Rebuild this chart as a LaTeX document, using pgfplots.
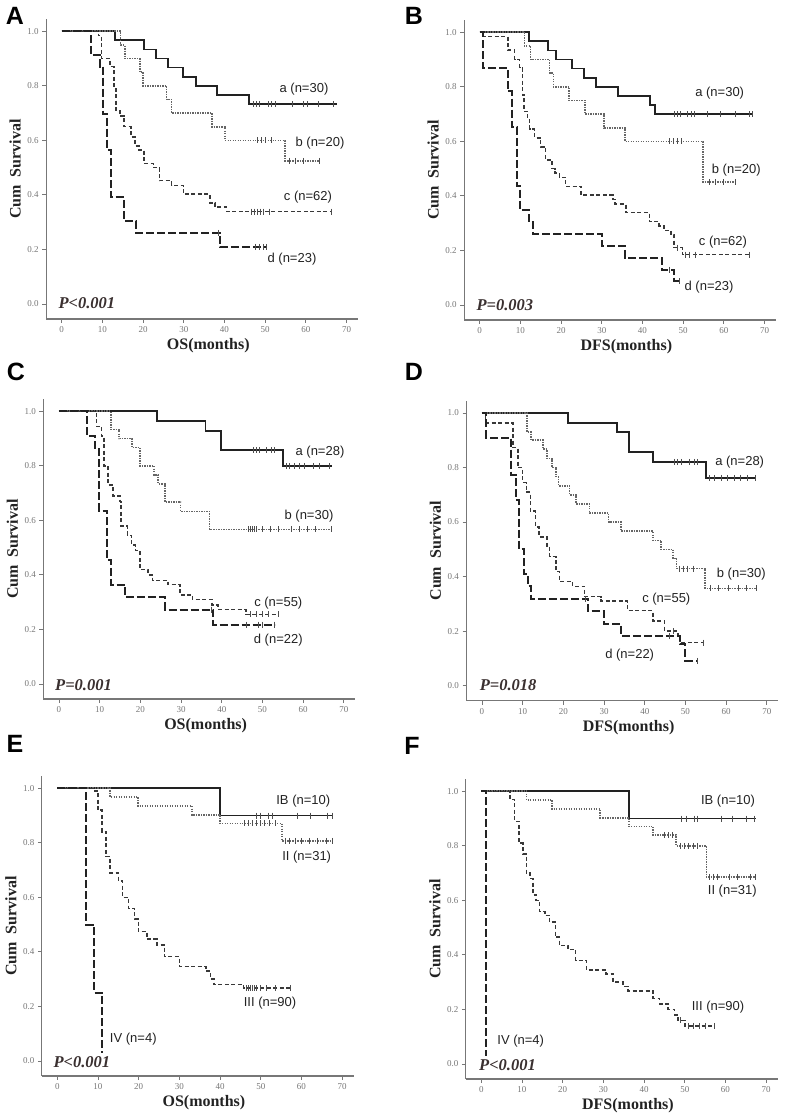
\documentclass[border=0pt]{standalone}
\usepackage{fontspec}
\setmainfont{Liberation Serif}
\newfontfamily\arial{Liberation Sans}
\usepackage{pgfplots}
\pgfplotsset{compat=1.18}

\definecolor{axgray}{HTML}{777777}
\definecolor{ink}{HTML}{222222}
\definecolor{pcol}{HTML}{3A3030}

\pgfplotsset{
  kmaxis/.style={
    scale only axis, width=311.8pt, height=300pt,
    xmin=-3.8, xmax=72.8, ymin=-0.055, ymax=1.045,
    axis lines=left, axis line style={-, draw=axgray, line width=1.1pt},
    tick align=outside, major tick length=4pt,
    tick style={draw=axgray, line width=0.9pt},
    xtick={0,10,...,70}, ytick={0,0.2,0.4,0.6,0.8,1.0},
    yticklabel style={/pgf/number format/fixed, /pgf/number format/fixed zerofill,
                      /pgf/number format/precision=1},
    /pgf/number format/assume math mode=true,
    tick label style={font=\fontsize{9}{9}\selectfont, text=axgray},
    label style={font=\fontsize{16}{16}\selectfont\bfseries, text=ink},
    ylabel={Cum\hspace{0.5em}Survival},
    xlabel style={at={(axis description cs:0.52,-0.09)}, anchor=center},
    ylabel style={at={(axis description cs:-0.0994,0.5)}, anchor=center},
    clip=false,
  },
  sa/.style={const plot, no marks, draw=ink, line width=1.8pt},
  sb/.style={const plot, no marks, draw=black!60, line width=1.6pt, dash pattern=on 1.4pt off 1.1pt},
  sc/.style={const plot, no marks, draw=ink!90, line width=1.5pt, dash pattern=on 4pt off 2.5pt},
  sd/.style={const plot, no marks, draw=ink, line width=2pt, dash pattern=on 8pt off 3pt},
  cens/.style={only marks, mark=|, mark size=3pt, mark options={line width=0.8pt, draw=ink!80}},
}

\newcommand{\lab}[3]{\node[font=\arial\fontsize{13}{13}\selectfont, text=ink] at (#1pt,#2pt) {#3};}
\newcommand{\pval}[3]{\node[anchor=west, font=\fontsize{16.5}{16.5}\selectfont\bfseries\itshape, text=pcol] at (#1pt,#2pt) {#3};}
\newcommand{\panel}[3]{\node[font=\arial\fontsize{25}{25}\selectfont\bfseries] at (#1pt,#2pt) {#3};}

\begin{document}
\begin{tikzpicture}
\useasboundingbox (0,0) rectangle (786pt,1120pt);

% ---------- A ----------
\begin{axis}[kmaxis, at={(46.2pt,801pt)}, anchor=south west, xlabel={OS(months)}]
\addplot[sa] coordinates {(0,1)(13.1,0.967)(20.3,0.933)(23.1,0.9)(26.2,0.867)(29.9,0.833)(33,0.8)(38.2,0.767)(46,0.733)(67.6,0.733)};
\addplot[cens] coordinates {(47.1,0.733)(47.9,0.733)(48.7,0.733)(50.8,0.733)(51.6,0.733)(52.4,0.733)(56.6,0.733)(59.4,0.733)(60.3,0.733)(63,0.733)(66.7,0.733)};
\addplot[sb] coordinates {(0,1)(14.5,0.95)(15.5,0.9)(19.2,0.85)(20,0.8)(25.8,0.75)(27,0.7)(37,0.65)(40.1,0.6)(54.9,0.525)(63.3,0.525)};
\addplot[cens] coordinates {(48,0.6)(49,0.6)(50,0.6)(51.5,0.6)(56,0.525)(57.5,0.525)(59.5,0.525)(63.3,0.525)};
\addplot[sc] coordinates {(0,1)(9,0.984)(9.8,0.9)(11.9,0.87)(12.8,0.79)(13.3,0.71)(14.3,0.69)(15.3,0.65)(17,0.613)(18,0.58)(19,0.565)(20.2,0.516)(22.5,0.5)(24,0.452)(27,0.435)(29.9,0.403)(36.4,0.371)(37.7,0.355)(40.5,0.339)(66.3,0.339)};
\addplot[cens] coordinates {(46.5,0.339)(47.3,0.339)(48,0.339)(48.8,0.339)(49.6,0.339)(51,0.339)(66.3,0.339)};
\addplot[sd] coordinates {(0,1)(7.1,0.913)(9.4,0.87)(10.2,0.696)(11.2,0.565)(12,0.391)(15.3,0.304)(18.3,0.261)(38.9,0.209)(50.4,0.209)};
\addplot[cens] coordinates {(38.6,0.261)(47.5,0.209)(48.5,0.209)(49.5,0.209)(50.4,0.209)};
\end{axis}

% ---------- B ----------
\begin{axis}[kmaxis, at={(464.2pt,800pt)}, anchor=south west, xlabel={DFS(months)}]
\addplot[sa] coordinates {(0,1)(12.1,0.967)(16.7,0.933)(18.8,0.9)(22.7,0.867)(25.7,0.833)(28.6,0.8)(33.9,0.767)(41.9,0.733)(43,0.7)(67,0.7)};
\addplot[cens] coordinates {(47.8,0.7)(48.6,0.7)(49.4,0.7)(51.1,0.7)(51.9,0.7)(52.7,0.7)(56,0.7)(59.2,0.7)(62.9,0.7)(66.2,0.7)(67,0.7)};
\addplot[sb] coordinates {(0,1)(11,0.95)(12.5,0.9)(17.2,0.85)(18.1,0.8)(22,0.75)(25.9,0.7)(30.6,0.65)(35.7,0.6)(54.9,0.45)(62.9,0.45)};
\addplot[cens] coordinates {(46.5,0.6)(47.5,0.6)(48.5,0.6)(49.5,0.6)(56.5,0.45)(58,0.45)(60,0.45)(62.9,0.45)};
\addplot[sc] coordinates {(0,1)(0.7,0.984)(6.9,0.935)(8.6,0.9)(9.8,0.87)(10.5,0.77)(10.9,0.71)(11.8,0.68)(12.3,0.645)(13.5,0.613)(15,0.58)(16.2,0.532)(17.8,0.5)(18.5,0.484)(19.6,0.468)(21.1,0.435)(24.9,0.403)(32.7,0.387)(33.3,0.37)(35.9,0.339)(41.7,0.306)(44.1,0.29)(45.3,0.274)(47,0.258)(47.8,0.21)(49.8,0.185)(66.2,0.185)};
\addplot[cens] coordinates {(48.5,0.21)(50.5,0.185)(51.5,0.185)(53,0.185)(66.2,0.185)};
\addplot[sd] coordinates {(0,1)(0.7,0.87)(6.9,0.783)(8,0.652)(9.2,0.435)(10,0.348)(12.1,0.304)(13.1,0.261)(30,0.217)(35.7,0.174)(44.8,0.13)(47.8,0.087)(49,0.087)};
\addplot[cens] coordinates {(46.5,0.13)(49,0.087)};
\end{axis}

% ---------- C ----------
\begin{axis}[kmaxis, at={(43.5pt,421pt)}, anchor=south west, xlabel={OS(months)}]
\addplot[sa] coordinates {(0,1)(24.1,0.964)(36,0.929)(39.9,0.857)(55,0.8)(67,0.8)};
\addplot[cens] coordinates {(47.7,0.857)(48.5,0.857)(49.3,0.857)(50.9,0.857)(52.2,0.857)(53,0.857)(55.8,0.8)(56.6,0.8)(57.9,0.8)(59.1,0.8)(60.3,0.8)(62.4,0.8)(64,0.8)(66.5,0.8)};
\addplot[sb] coordinates {(0,1)(12.8,0.933)(14.8,0.9)(17.9,0.867)(19.9,0.8)(23.4,0.767)(24.4,0.733)(26,0.667)(29.9,0.633)(37,0.567)(67,0.567)};
\addplot[cens] coordinates {(46.5,0.567)(47,0.567)(47.5,0.567)(48,0.567)(48.5,0.567)(50,0.567)(52,0.567)(54,0.567)(57,0.567)(59,0.567)(61,0.567)(63,0.567)(67,0.567)};
\addplot[sc] coordinates {(0,1)(9.2,0.945)(10.5,0.91)(11.1,0.8)(12.1,0.73)(13.3,0.69)(15,0.67)(15.2,0.58)(16.8,0.545)(17.8,0.51)(18.8,0.49)(19.9,0.42)(21.9,0.4)(23,0.38)(26.8,0.364)(29.7,0.327)(32.8,0.31)(37.6,0.29)(39.1,0.273)(45.9,0.255)(54,0.255)};
\addplot[cens] coordinates {(47,0.255)(48.5,0.255)(50,0.255)(51.5,0.255)(54,0.255)};
\addplot[sd] coordinates {(0,1)(7,0.909)(8.8,0.864)(9.8,0.636)(11.9,0.455)(12.9,0.364)(16.2,0.318)(26,0.273)(37.9,0.218)(53,0.218)};
\addplot[cens] coordinates {(37.5,0.273)(46,0.218)(49,0.218)(50,0.218)(53,0.218)};
\end{axis}

% ---------- D ----------
\begin{axis}[kmaxis, at={(466.5pt,419.3pt)}, anchor=south west, xlabel={DFS(months)}]
\addplot[sa] coordinates {(0,1)(21.1,0.964)(33.1,0.929)(36.1,0.857)(42.1,0.821)(55,0.762)(67.3,0.762)};
\addplot[cens] coordinates {(47.3,0.821)(48.1,0.821)(48.9,0.821)(50.9,0.821)(52.1,0.821)(52.9,0.821)(55.8,0.762)(57.1,0.762)(58.7,0.762)(60.3,0.762)(62,0.762)(63.6,0.762)(65.2,0.762)(67.1,0.762)};
\addplot[sb] coordinates {(0,1)(11.1,0.93)(12.1,0.9)(15,0.867)(16,0.833)(17.2,0.8)(18.2,0.767)(18.8,0.733)(21.5,0.7)(23.1,0.667)(26.4,0.633)(31.1,0.6)(34.2,0.567)(42,0.533)(44,0.5)(46.9,0.467)(47.8,0.429)(54.8,0.357)(67.3,0.357)};
\addplot[cens] coordinates {(48.5,0.429)(49.5,0.429)(50.5,0.429)(52,0.429)(56,0.357)(58,0.357)(60.5,0.357)(63,0.357)(65,0.357)(67.3,0.357)};
\addplot[sc] coordinates {(0,1)(0.9,0.964)(7.6,0.873)(8.8,0.8)(10,0.745)(10.9,0.71)(11.9,0.64)(13.2,0.582)(14,0.545)(16,0.51)(16.6,0.473)(18.2,0.418)(19.1,0.382)(22.3,0.364)(25.2,0.327)(29.3,0.31)(35.8,0.275)(42,0.237)(44.9,0.2)(48.2,0.18)(48.6,0.158)(54.3,0.158)};
\addplot[cens] coordinates {(47,0.2)(54.3,0.158)};
\addplot[sd] coordinates {(0,1)(1.1,0.909)(7.2,0.773)(8.3,0.682)(9.2,0.5)(10.3,0.409)(11.3,0.364)(12.1,0.318)(26,0.273)(29.9,0.227)(34.2,0.182)(48.6,0.152)(50,0.091)(53,0.091)};
\addplot[cens] coordinates {(25.5,0.318)(46,0.182)(53,0.091)};
\end{axis}

% ---------- E ----------
\begin{axis}[kmaxis, at={(41.8pt,44pt)}, anchor=south west, xlabel={OS(months)}]
\addplot[sa] coordinates {(0,1)(40,0.9)(67.5,0.9)};
\addplot[cens] coordinates {(49,0.9)(49.9,0.9)(51.9,0.9)(52.8,0.9)(58.9,0.9)(62.2,0.9)(66.3,0.9)(67.5,0.9)};
\addplot[sb] coordinates {(0,1)(13,0.968)(19.9,0.935)(33.1,0.903)(40,0.871)(55.2,0.807)(67.5,0.807)};
\addplot[cens] coordinates {(46,0.871)(47,0.871)(48,0.871)(49,0.871)(50,0.871)(51,0.871)(52,0.871)(53.5,0.871)(56,0.807)(57,0.807)(58.5,0.807)(60,0.807)(62,0.807)(64,0.807)(66,0.807)(67.5,0.807)};
\addplot[sc] coordinates {(0,1)(9.2,0.99)(10,0.92)(11,0.84)(12,0.75)(13,0.69)(15,0.66)(16,0.6)(17.5,0.56)(19,0.52)(19.9,0.475)(22,0.447)(24.5,0.426)(26.3,0.383)(30,0.347)(36.5,0.33)(37.6,0.3)(38.5,0.28)(45.8,0.267)(57.3,0.267)};
\addplot[cens] coordinates {(46.5,0.267)(47,0.267)(47.5,0.267)(48,0.267)(48.5,0.267)(49,0.267)(50,0.267)(51.5,0.267)(53.5,0.267)(57.3,0.267)};
\addplot[sd] coordinates {(0,1)(7.1,0.5)(9.1,0.25)(11.1,0.03)};
\end{axis}

% ---------- F ----------
\begin{axis}[kmaxis, at={(465.8pt,41pt)}, anchor=south west, xlabel={DFS(months)}]
\addplot[sa] coordinates {(0,1)(36.2,0.9)(67.4,0.9)};
\addplot[cens] coordinates {(49.1,0.9)(50.4,0.9)(52.4,0.9)(53.2,0.9)(58.9,0.9)(61.8,0.9)(65.1,0.9)(67.1,0.9)};
\addplot[sb] coordinates {(0,1)(11.1,0.968)(17.4,0.935)(29.2,0.903)(36.3,0.871)(42.2,0.839)(47.9,0.8)(55.3,0.686)(67.4,0.686)};
\addplot[cens] coordinates {(45,0.839)(46,0.839)(47,0.839)(49,0.8)(50,0.8)(51,0.8)(52,0.8)(53,0.8)(56,0.686)(57,0.686)(58,0.686)(61,0.686)(63,0.686)(66,0.686)(67.4,0.686)};
\addplot[sc] coordinates {(0,1)(7,0.97)(8.2,0.89)(9.3,0.81)(10.2,0.77)(11.1,0.7)(12,0.68)(12.7,0.62)(13.5,0.6)(14.3,0.56)(15.6,0.545)(16.8,0.52)(18.2,0.465)(19.2,0.435)(21.3,0.42)(23.2,0.38)(25.8,0.345)(30.7,0.33)(32.4,0.3)(34.8,0.285)(36,0.268)(42.2,0.24)(43.8,0.22)(45.9,0.2)(47.5,0.18)(48.3,0.16)(50,0.14)(57.3,0.14)};
\addplot[cens] coordinates {(49,0.16)(51,0.14)(52,0.14)(53.5,0.14)(55,0.14)(57.3,0.14)};
\addplot[sd] coordinates {(0,1)(1.2,0.03)};
\end{axis}

% curve labels
\lab{304}{1031}{a (n=30)} \lab{320}{977}{b (n=20)} \lab{308}{923}{c (n=62)} \lab{292}{861}{d (n=23)}
\lab{719.7}{1027.3}{a (n=30)} \lab{736.3}{950}{b (n=20)} \lab{723}{878.3}{c (n=62)} \lab{709}{832.7}{d (n=23)}
\lab{320}{668.3}{a (n=28)} \lab{309}{604}{b (n=30)} \lab{278.3}{516.7}{c (n=55)} \lab{278.3}{480}{d (n=22)}
\lab{739.7}{658.3}{a (n=28)} \lab{741.3}{546}{b (n=30)} \lab{666.3}{520.7}{c (n=55)} \lab{629.7}{465}{d (n=22)}
\lab{303.3}{319.3}{IB (n=10)} \lab{306.7}{262.7}{II (n=31)} \lab{270}{116.7}{III (n=90)} \lab{133.3}{81}{IV (n=4)}
\lab{728}{319.3}{IB (n=10)} \lab{732.3}{229.3}{II (n=31)} \lab{718}{112.7}{III (n=90)} \lab{520.7}{79}{IV (n=4)}

% p values
\pval{55}{817}{P<0.001} \pval{473}{815}{P=0.003}
\pval{51.7}{435}{P=0.001} \pval{476.3}{435}{P=0.018}
\pval{50}{58.3}{P<0.001} \pval{475.7}{55}{P<0.001}

% panel letters
\panel{15}{1104}{A} \panel{414}{1104}{B}
\panel{16}{748}{C} \panel{414}{748.5}{D}
\panel{15}{376}{E} \panel{412}{374}{F}
\end{tikzpicture}
\end{document}
